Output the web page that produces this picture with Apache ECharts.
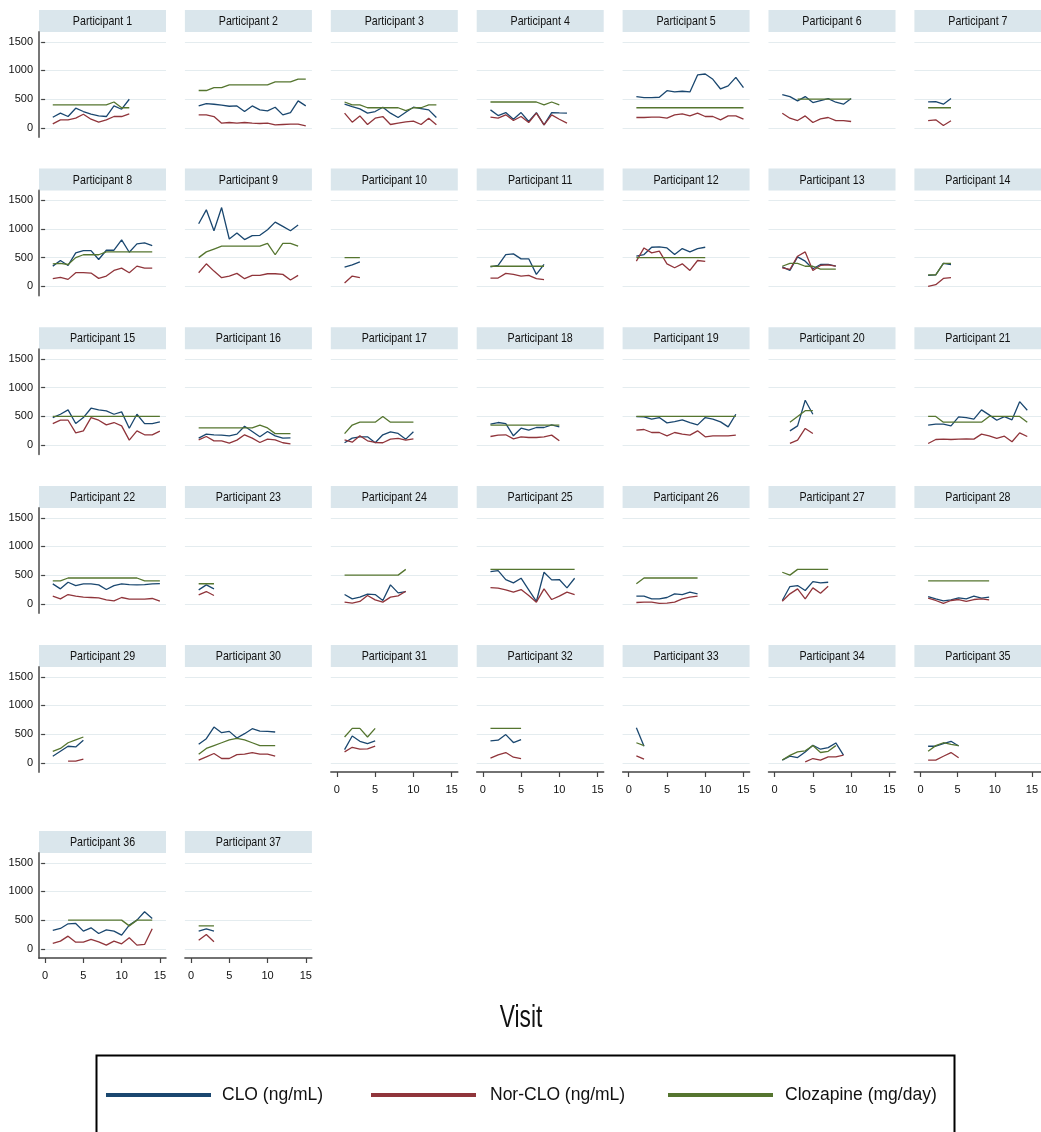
<!DOCTYPE html>
<html>
<head>
<meta charset="utf-8">
<title>CLO / Nor-CLO / Clozapine by participant</title>
<script src="https://cdn.jsdelivr.net/npm/echarts@6/dist/echarts.min.js"></script>
<style>
  html, body { margin: 0; padding: 0; background: #fff; }
  #chart { width: 1041px; height: 1132px; }
</style>
</head>
<body>
<div id="chart"></div>
<script>
/* values per participant, visit 1..n (null = no measurement) */
var clo = [
  [185,255,197,342,284,237,208,197,382,324,498],
  [382,423,411,394,376,382,284,382,313,295,359,226,266,469,382],
  [411,370,330,255,284,359,255,180,272,359,336,313,180],
  [313,214,266,150,266,110,266,52,266,260,255],
  [544,527,527,533,648,625,637,625,921,938,845,677,730,880,700],
  [579,544,469,544,440,475,510,446,411,510],
  [452,457,411,510],
  [352,450,364,583,623,623,467,629,629,808,594,739,756,710],
  [1091,1333,969,1373,825,929,814,883,889,987,1119,1044,969,1067],
  [335,375,427],
  [340,364,554,565,479,479,208,381],
  [525,554,681,687,669,554,658,600,658,681],
  [340,277,514,438,306,381,381,352],
  [190,200,400,380],
  [480,538,614,376,480,643,614,596,538,579,295,538,376,376,405],
  [122,191,180,174,162,191,330,237,145,237,162,122,127],
  [41,122,145,145,41,180,232,203,104,232],
  [365,394,376,162,295,260,307,307,353,318],
  [498,492,452,480,388,411,440,394,353,480,452,405,318,538],
  [null,249,336,782,538],
  [347,365,365,336,492,480,452,614,527,434,498,440,758,608],
  [347,261,376,318,347,347,330,249,318,347,336,330,336,347,353],
  [243,330,261],
  [162,87,116,168,162,58,330,191,214],
  [562,579,423,365,446,243,41,550,417,423,278,446],
  [133,133,87,87,110,174,162,203,174],
  [58,301,318,232,388,365,376],
  [127,87,52,69,104,87,133,98,116],
  [115,202,289,277,392],
  [323,421,623,525,548,433,508,594,554,548,537],
  [231,467,375,335,381],
  [382,394,492,353,405],
  [612,289],
  [46,115,92,190,306,237,265,346,133],
  [289,289,335,375,294],
  [320,355,436,442,308,366,267,331,308,238,413,500,645,529],
  [308,349,308]
];
var norClo = [
  [70,139,139,168,237,150,98,139,197,197,243],
  [226,226,197,81,93,81,93,81,75,81,52,58,64,64,35],
  [255,98,208,58,168,197,58,81,104,116,58,168,52],
  [185,168,226,127,197,93,255,52,226,150,81],
  [180,180,185,185,168,226,243,208,255,197,197,139,208,208,150],
  [255,168,127,208,93,156,180,127,127,110],
  [127,139,40,122],
  [133,156,121,237,237,231,139,179,277,317,237,352,317,317],
  [237,392,265,150,179,225,133,190,190,219,219,208,110,190],
  [58,179,150],
  [144,144,225,208,179,190,133,115],
  [438,669,583,612,392,323,392,277,450,433],
  [323,294,525,600,277,364,375,352],
  [0,29,138,150],
  [376,434,434,214,249,480,434,353,394,336,87,249,180,180,243],
  [93,150,75,75,35,87,180,122,46,104,93,41,23],
  [93,52,162,75,46,41,104,116,87,110],
  [150,174,180,110,145,133,133,145,174,75],
  [260,272,220,220,162,220,191,174,249,145,162,162,162,174],
  [null,29,87,290,203],
  [29,98,104,98,104,110,104,191,162,116,156,58,214,150],
  [133,87,162,133,116,110,104,69,52,110,81,81,81,93,46],
  [156,214,145],
  [29,12,41,145,69,29,116,139,220],
  [284,272,243,203,249,145,29,261,75,133,203,162],
  [23,29,29,6,12,29,87,116,133],
  [46,174,261,87,278,185,307],
  [98,58,6,58,75,41,75,87,69],
  [null,null,29,29,63],
  [46,104,162,75,75,144,150,179,150,150,115],
  [190,271,237,242,289],
  [81,139,179,98,75],
  [121,63],
  [null,null,null,17,75,46,104,104,133],
  [46,46,115,179,87],
  [93,134,221,116,116,163,122,64,134,87,192,64,76,349],
  [151,250,122]
];
var dose = [
  [400,400,400,400,400,400,400,400,450,350,350],
  [650,650,700,700,750,750,750,750,750,750,800,800,800,850,850],
  [450,400,400,350,350,350,350,350,300,350,350,400,400],
  [450,450,450,450,450,450,450,400,450,400],
  [350,350,350,350,350,350,350,350,350,350,350,350,350,350,350],
  [null,null,500,500,500,500,500,500,500,500],
  [350,350,350,350],
  [390,400,380,500,550,550,550,600,600,600,600,600,600,600],
  [500,600,650,700,700,700,700,700,700,750,550,750,750,700],
  [500,500,500],
  [350,350,350,350,350,350,350,350],
  [500,500,500,500,500,500,500,500,500,500],
  [350,400,400,350,350,300,300,300],
  [200,200,400,400],
  [500,500,500,500,500,500,500,500,500,500,500,500,500,500,500],
  [300,300,300,300,300,300,300,300,350,300,200,200,200],
  [200,350,400,400,400,500,400,400,400,400],
  [350,350,350,350,350,350,350,350,350,350],
  [500,500,500,500,500,500,500,500,500,500,500,500,500,500],
  [null,400,500,600,600],
  [500,500,400,400,400,400,400,400,500,500,500,500,500,400],
  [400,400,450,450,450,450,450,450,450,450,450,450,400,400,400],
  [350,350,350],
  [500,500,500,500,500,500,500,500,600],
  [600,600,600,600,600,600,600,600,600,600,600,600],
  [350,450,450,450,450,450,450,450,450],
  [550,500,600,600,600,600,600],
  [400,400,400,400,400,400,400,400,400],
  [200,250,350,400,450],
  [150,250,300,350,400,425,400,350,300,300,300],
  [450,600,600,450,600],
  [600,600,600,600,600],
  [350,300],
  [50,130,190,210,300,180,200,300],
  [200,300,350,320,300],
  [null,null,500,500,500,500,500,500,500,500,400,500,500,500],
  [400,400,400]
];
var xTickRange = [0, 15], xTickStep = 5;     // x tick labels 0, 5, 10, 15
var yTickRange = [0, 1500], yTickStep = 500; // y tick labels 0 .. 1500
var seriesNames = ['CLO (ng/mL)', 'Nor-CLO (ng/mL)', 'Clozapine (mg/day)'];

var colors = ['#1a476f', '#90353b', '#55752f'];
var font = "'Liberation Sans',Arial,sans-serif";
var rowTop = [10, 168.5, 327.3, 486, 645, 831];
var colLeft = 39, colStep = 145.9, cellW = 127, stripH = 22, plotH = 105;
// plot region is a bit wider than the tick range (Stata style)
var xView = [-0.8, 15.8], yView = [-160, 1670];

function toPoints(vals) {
  var res = [];
  for (var i = 0; i < vals.length; i++) {
    res.push([i + 1, vals[i] == null ? '-' : vals[i]]);
  }
  return res;
}
function plainNum(v) { return String(v); }

var grids = [], xAxes = [], yAxes = [], series = [], graphics = [];

function addGrid(g, xa, ya) {
  var idx = grids.length;
  grids.push(g);
  xa.gridIndex = idx; ya.gridIndex = idx;
  xAxes.push(xa); yAxes.push(ya);
  return idx;
}

var pxY = plotH / (yView[1] - yView[0]);
var pxX = cellW / (xView[1] - xView[0]);

for (var i = 0; i < clo.length; i++) {
  var col = i % 7, row = Math.floor(i / 7);
  var cellLeft = colLeft + colStep * col;
  var plotTop = rowTop[row] + stripH;
  var showX = i >= 30, showY = col == 0;

  // data grid: full width, y from 0 to 1500
  var d = addGrid(
    { left: cellLeft, top: plotTop + (yView[1] - yTickRange[1]) * pxY, width: cellW,
      height: (yTickRange[1] - yTickRange[0]) * pxY },
    { type: 'value', show: false, min: xView[0], max: xView[1] },
    { type: 'value', min: yTickRange[0], max: yTickRange[1], interval: yTickStep,
      axisLine: { show: false },
      axisTick: { show: showY, length: 4, lineStyle: { color: '#444', width: 1.2 } },
      axisLabel: { show: showY, margin: 6, color: '#111', fontSize: 11, fontFamily: font, formatter: plainNum },
      splitLine: { show: true, lineStyle: { color: '#e4ecef', width: 1.2 } } }
  );

  // frame grid: axis lines over the whole plot region
  if (showX || showY) {
    addGrid(
      { left: cellLeft, top: plotTop, width: cellW, height: plotH },
      { type: 'value', show: showX, min: xView[0], max: xView[1],
        axisLine: { show: true, onZero: false, lineStyle: { color: '#444', width: 1.5 } },
        axisTick: { show: false }, axisLabel: { show: false }, splitLine: { show: false } },
      { type: 'value', show: showY, min: yView[0], max: yView[1],
        axisLine: { show: true, onZero: false, lineStyle: { color: '#777', width: 2 } },
        axisTick: { show: false }, axisLabel: { show: false }, splitLine: { show: false } }
    );
  }

  // tick grid: x from 0 to 15
  if (showX) {
    addGrid(
      { left: cellLeft + (xTickRange[0] - xView[0]) * pxX, top: plotTop,
        width: (xTickRange[1] - xTickRange[0]) * pxX, height: plotH },
      { type: 'value', min: xTickRange[0], max: xTickRange[1], interval: xTickStep,
        axisLine: { show: false, onZero: false },
        axisTick: { show: true, length: 5, lineStyle: { color: '#444', width: 1.2 } },
        axisLabel: { show: true, margin: 12, color: '#111', fontSize: 11, fontFamily: font, formatter: plainNum },
        splitLine: { show: false } },
      { type: 'value', show: false, min: 0, max: 1 }
    );
  }

  // title strip
  graphics.push({
    type: 'rect', left: cellLeft, top: rowTop[row], silent: true,
    shape: { width: cellW, height: stripH },
    style: { fill: '#dae6ec' }
  });
  graphics.push({
    type: 'text', silent: true,
    x: cellLeft + cellW / 2, y: rowTop[row] + stripH / 2 + 0.5, scaleX: 0.82,
    style: {
      text: 'Participant ' + (i + 1), fill: '#111', font: '13px ' + font,
      align: 'center', verticalAlign: 'middle'
    }
  });

  var sets = [clo[i], norClo[i], dose[i]];
  for (var k = 0; k < 3; k++) {
    series.push({
      name: seriesNames[k], type: 'line',
      xAxisIndex: d, yAxisIndex: d,
      data: toPoints(sets[k]),
      showSymbol: false, symbol: 'none', clip: false,
      lineStyle: { color: colors[k], width: 1.3 },
      itemStyle: { color: colors[k] },
      animation: false
    });
  }
}

// x axis title
graphics.push({
  type: 'text', silent: true, x: 521, y: 1018, scaleX: 0.71,
  style: { text: 'Visit', fill: '#111', font: '32px ' + font, align: 'center', verticalAlign: 'middle' }
});

// legend frame
graphics.push({
  type: 'rect', left: 94, top: 1053, silent: true,
  shape: { width: 858, height: 120 },
  style: { fill: 'none', stroke: '#000', lineWidth: 2 }
});

var legendLeft = [101, 366, 663];
var legendPad = [6, 9, 7];
var legends = [];
for (var k = 0; k < 3; k++) {
  legends.push({
    data: [seriesNames[k]], left: legendLeft[k], top: 1081,
    icon: 'rect', itemWidth: 105, itemHeight: 4,
    selectedMode: false,
    textStyle: { fontSize: 17.5, fontFamily: font, color: '#111', padding: [0, 0, 0, legendPad[k]] }
  });
}

var myChart = echarts.init(document.getElementById('chart'));
myChart.setOption({
  animation: false,
  backgroundColor: '#fff',
  legend: legends,
  grid: grids,
  xAxis: xAxes,
  yAxis: yAxes,
  series: series,
  graphic: graphics
});
</script>
</body>
</html>
